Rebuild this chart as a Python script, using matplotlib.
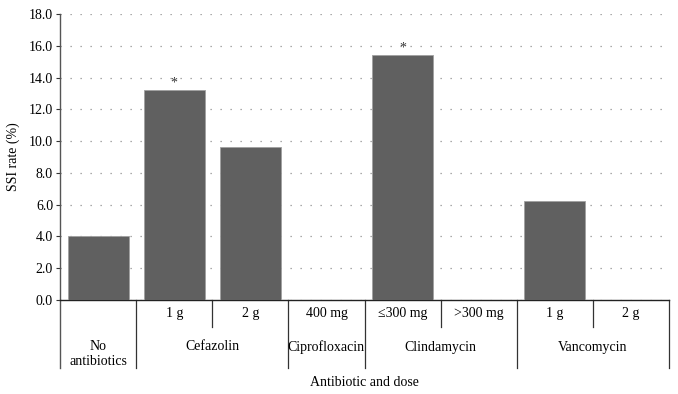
import matplotlib
matplotlib.use("Agg")
import matplotlib.pyplot as plt
from matplotlib.transforms import blended_transform_factory

plt.rcParams['font.family'] = ['Liberation Serif', 'DejaVu Serif']

doses = ["", "1 g", "2 g", "400 mg", "\u2264300 mg", ">300 mg", "1 g", "2 g"]
rates = [4.0, 13.2, 9.6, 0.0, 15.4, 0.0, 6.25, 0.0]
starred = [False, True, False, False, True, False, False, False]
# drug groups: (label, first index, last index)
groups = [("No\nantibiotics", 0, 0), ("Cefazolin", 1, 2), ("Ciprofloxacin", 3, 3),
          ("Clindamycin", 4, 5), ("Vancomycin", 6, 7)]
yticks = [0, 2, 4, 6, 8, 10, 12, 14, 16, 18]

fig = plt.figure(figsize=(6.78, 3.94), dpi=100)
ax = fig.add_axes([60 / 678, 94 / 394, 609 / 678, 286 / 394])

x = list(range(len(rates)))
ax.bar(x, rates, width=0.8, color="#606060", edgecolor="#a0a0a0", linewidth=0.6, zorder=3)
for xi, r, s in zip(x, rates, starred):
    if s:
        ax.text(xi, r + 0.05, "*", ha="center", va="bottom", fontsize=10, color="#333333")

ax.set_xlim(-0.5, len(rates) - 0.5)
ax.set_ylim(0, 18)
ax.set_yticks(yticks)
ax.set_yticklabels([f"{v:.1f}" for v in yticks], fontsize=10)
ax.tick_params(axis="y", length=3, width=0.8, color="#333333", pad=2)
ax.set_xticks([])
ax.grid(axis="y", linestyle=(0, (1, 7)), color="#909090", linewidth=0.9, zorder=0)
ax.set_ylabel("SSI rate (%)", fontsize=10, labelpad=6)

for side in ["top", "right"]:
    ax.spines[side].set_visible(False)
ax.spines["left"].set_color("#555555")
ax.spines["left"].set_linewidth(1.0)
ax.spines["bottom"].set_color("#222222")
ax.spines["bottom"].set_linewidth(1.0)

# category table under the axis
tr = blended_transform_factory(ax.transData, ax.transAxes)
row1 = -27 / 286
row2 = -68 / 286
label_y = -47 / 286
lc = "#333333"
ax.plot([-0.5, -0.5], [0, row2], transform=tr, clip_on=False, color="#555555", lw=1.0)
for name, a, b in groups:
    ax.plot([b + 0.5, b + 0.5], [0, row2], transform=tr, clip_on=False, color=lc, lw=0.9)
    for k in range(a, b):
        ax.plot([k + 0.5, k + 0.5], [0, row1], transform=tr, clip_on=False, color=lc, lw=0.9)
    if "\n" in name:
        ax.text((a + b) / 2, label_y + 7 / 286, name, transform=tr, ha="center", va="top",
                fontsize=10, linespacing=1.2)
    else:
        ax.text((a + b) / 2, label_y, name, transform=tr, ha="center", va="center", fontsize=10)
for xi, d in zip(x, doses):
    if d:
        ax.text(xi, row1 / 2, d, transform=tr, ha="center", va="center", fontsize=10)

fig.text(364 / 678, 1 - 382 / 394, "Antibiotic and dose", ha="center", va="center", fontsize=10)

fig.savefig("out.png", dpi=100)
